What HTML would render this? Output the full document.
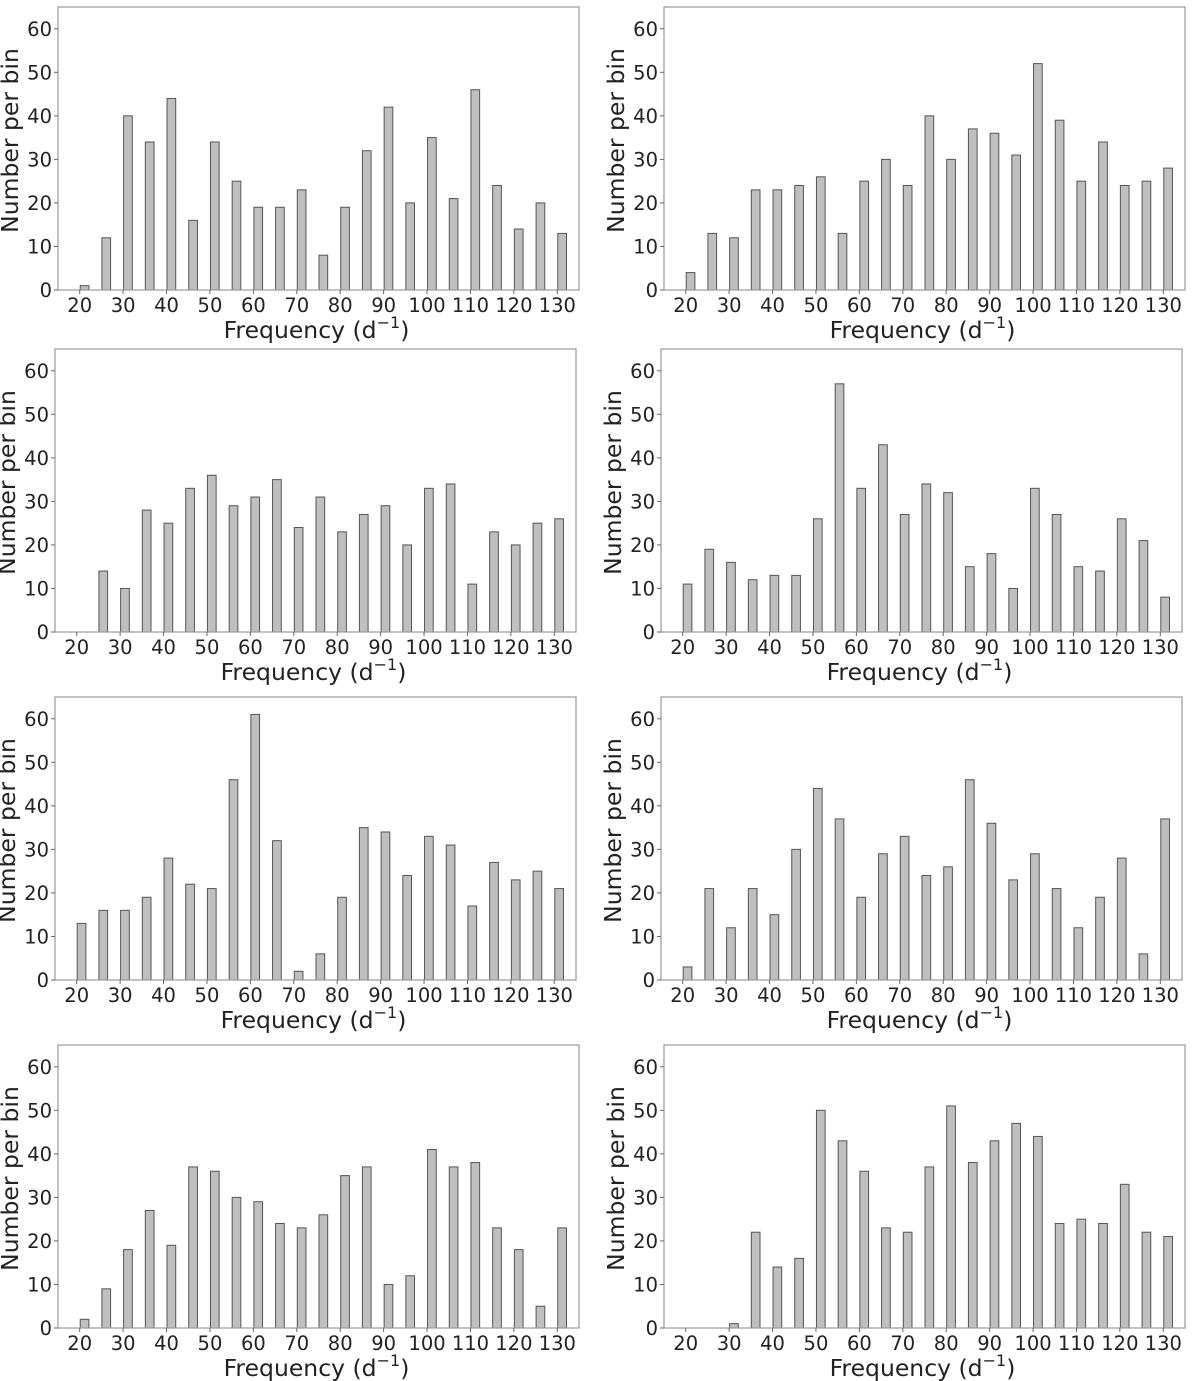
<!DOCTYPE html>
<html><head><meta charset="utf-8"><style>
body{margin:0;background:#fff;}
svg{display:block;font-family:"DejaVu Sans","Liberation Sans",sans-serif;}
</style></head><body>
<svg id="fig" width="1200" height="1381" viewBox="0 0 1200 1381" xmlns="http://www.w3.org/2000/svg"></svg>
<script>
const categories=[20,25,30,35,40,45,50,55,60,65,70,75,80,85,90,95,100,105,110,115,120,125,130];
const xTicks=[20,30,40,50,60,70,80,90,100,110,120,130];
const yTicks=[0,10,20,30,40,50,60];
const s1=[1,12,40,34,44,16,34,25,19,19,23,8,19,32,42,20,35,21,46,24,14,20,13];
const s2=[4,13,12,23,23,24,26,13,25,30,24,40,30,37,36,31,52,39,25,34,24,25,28];
const s3=[0,14,10,28,25,33,36,29,31,35,24,31,23,27,29,20,33,34,11,23,20,25,26];
const s4=[11,19,16,12,13,13,26,57,33,43,27,34,32,15,18,10,33,27,15,14,26,21,8];
const s5=[13,16,16,19,28,22,21,46,61,32,2,6,19,35,34,24,33,31,17,27,23,25,21];
const s6=[3,21,12,21,15,30,44,37,19,29,33,24,26,46,36,23,29,21,12,19,28,6,37];
const s7=[2,9,18,27,19,37,36,30,29,24,23,26,35,37,10,12,41,37,38,23,18,5,23];
const s8=[0,0,1,22,14,16,50,43,36,23,22,37,51,38,43,47,44,24,25,24,33,22,21];
const series=[s1,s2,s3,s4,s5,s6,s7,s8];
const NS="http://www.w3.org/2000/svg";
const svg=document.getElementById('fig');
const lefts=[58,664,55,661,55,661,58,664];
const tops=[7,7,349,349,697,697,1045,1045];
function mk(tag,attrs,parent){const e=document.createElementNS(NS,tag);for(const k in attrs)e.setAttribute(k,attrs[k]);parent.appendChild(e);return e;}
series.forEach((data,i)=>{
  const L=lefts[i],T=tops[i],W=521,H=283;
  const xs=v=>L+(v-15)/120*W;
  const ys=v=>T+H-v/65*H;
  const g=mk('g',{},svg);
  
  
  data.forEach((v,j)=>{
    const c=categories[j];
    const r=mk('rect',{x:xs(c)+0.5,y:ys(v),width:xs(c+2)-xs(c),height:ys(0)-ys(v),fill:'#bfbfbf',stroke:'#555','stroke-width':1},g);
    
    
  });
  const box=mk('rect',{x:L,y:T,width:W,height:H,fill:'none',stroke:'#999','stroke-width':1.2},g);
  
  
  xTicks.forEach(t=>{
    const x=xs(t);
    mk('line',{x1:x,x2:x,y1:T+H,y2:T+H+4,stroke:'#666'},g);
    const tx=mk('text',{x:x,y:T+H+22,'font-size':19.5,fill:'#222','text-anchor':'middle'},g);
    tx.textContent=t;
    
    
  });
  yTicks.forEach(t=>{
    const y=ys(t);
    mk('line',{x1:L-4,x2:L,y1:y,y2:y,stroke:'#666'},g);
    const tx=mk('text',{x:L-6,y:y+7,'font-size':19.5,fill:'#222','text-anchor':'end'},g);
    tx.textContent=t;
    
    
  });
  const xl=mk('text',{x:L+W/2-2,y:T+H+48,'font-size':23.5,fill:'#222','text-anchor':'middle'},g);
  xl.innerHTML='Frequency (d<tspan dy="-10" font-size="16">−1</tspan><tspan dy="10">)</tspan>';
  
  
  const yx=L-40,yy=T+H/2-8;
  const yl=mk('text',{x:yx,y:yy,'font-size':23.5,fill:'#222','text-anchor':'middle',transform:`rotate(-90 ${yx} ${yy})`},g);
  yl.textContent='Number per bin';
  
  
});
</script>
</body></html>
